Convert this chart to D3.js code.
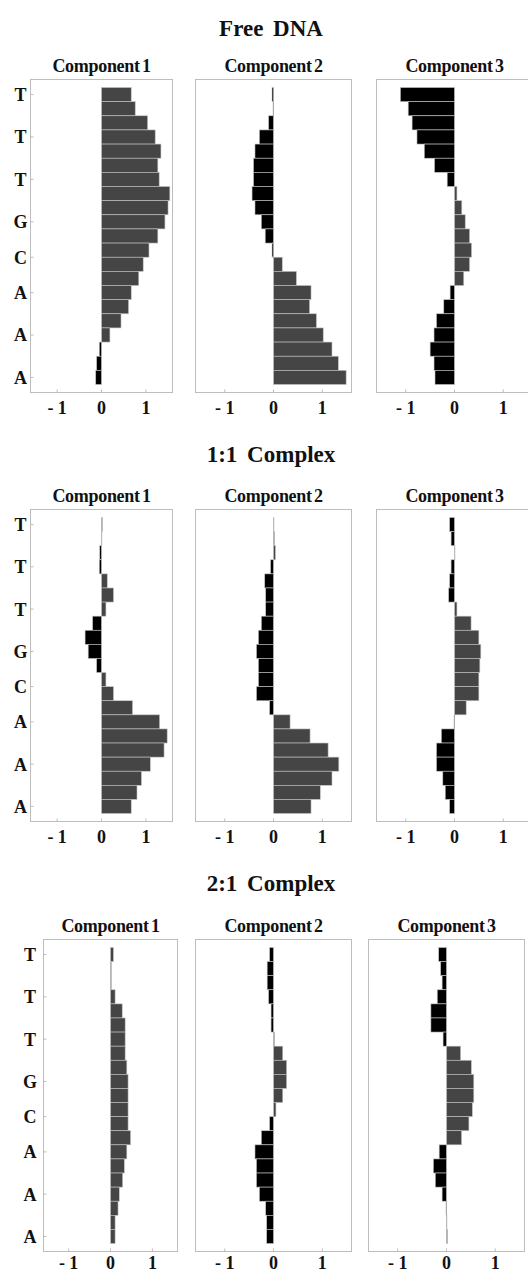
<!DOCTYPE html>
<html lang="en">
<head>
<meta charset="UTF-8">
<title>Free DNA / Complex components</title>
<script src="https://d3js.org/d3.v7.min.js"></script>
<style>
  body { margin: 0; background: #fff; }
  text { font-family: "Liberation Serif", "Times New Roman", serif; font-weight: bold; fill: #111; }
</style>
</head>
<body>
<script>

// sequence labels on the y axis and the bar index they sit on
const categories = ['T', 'T', 'T', 'G', 'C', 'A', 'A', 'A'];
const categoryPos = [0, 3, 6, 9, 11.5, 14, 17, 20];

const xTicks = [-1, 0, 1];
const xTickLabels = ['- 1', '0', '1'];

const sectionTitles = ['Free DNA', '1:1 Complex', '2:1 Complex'];
const componentTitles = ['Component 1', 'Component 2', 'Component 3'];

// values, top bar first (21 bars per panel)
const freeC1 = [0.67, 0.76, 1.04, 1.21, 1.34, 1.27, 1.30, 1.54, 1.50, 1.43, 1.27, 1.07, 0.94, 0.84, 0.67, 0.61, 0.44, 0.19, -0.05, -0.11, -0.13];
const freeC2 = [-0.03, -0.01, -0.10, -0.29, -0.38, -0.41, -0.41, -0.44, -0.38, -0.25, -0.17, -0.03, 0.18, 0.47, 0.77, 0.74, 0.88, 1.02, 1.20, 1.33, 1.49];
const freeC3 = [-1.11, -0.95, -0.87, -0.77, -0.62, -0.41, -0.15, 0.05, 0.15, 0.22, 0.31, 0.35, 0.31, 0.19, -0.09, -0.22, -0.37, -0.42, -0.50, -0.42, -0.40];

const c11C1 = [0.02, 0.01, -0.04, -0.05, 0.13, 0.27, 0.10, -0.20, -0.37, -0.30, -0.11, 0.10, 0.27, 0.70, 1.31, 1.48, 1.41, 1.10, 0.90, 0.80, 0.67];
const c11C2 = [0.01, 0.02, 0.04, -0.06, -0.18, -0.16, -0.16, -0.25, -0.31, -0.35, -0.31, -0.31, -0.35, -0.08, 0.34, 0.75, 1.12, 1.34, 1.20, 0.96, 0.77];
const c11C3 = [-0.10, -0.07, 0.01, -0.07, -0.10, -0.12, 0.05, 0.34, 0.50, 0.54, 0.52, 0.50, 0.50, 0.24, -0.01, -0.27, -0.37, -0.37, -0.24, -0.19, -0.10];

const c21C1 = [0.07, 0.02, 0.02, 0.11, 0.28, 0.35, 0.35, 0.35, 0.39, 0.42, 0.42, 0.42, 0.42, 0.48, 0.39, 0.33, 0.29, 0.21, 0.18, 0.11, 0.11];
const c21C2 = [-0.08, -0.13, -0.13, -0.10, -0.05, -0.05, 0.02, 0.19, 0.27, 0.27, 0.19, 0.05, -0.08, -0.25, -0.38, -0.35, -0.35, -0.29, -0.16, -0.14, -0.14];
const c21C3 = [-0.16, -0.12, -0.09, -0.19, -0.32, -0.32, -0.07, 0.29, 0.51, 0.56, 0.56, 0.53, 0.46, 0.31, -0.15, -0.27, -0.23, -0.09, -0.01, 0.01, 0.02];

const sectionData = [
  [freeC1, freeC2, freeC3],
  [c11C1, c11C2, c11C3],
  [c21C1, c21C2, c21C3]
];

// page layout (pixels)
const layout = [
  { titleY: 36, top: 79.5, bottom: 392.5, labelX: 20.5, tickY: 21, panels: [[30.5, 172.5], [195.5, 351.5], [376.5, 532.5]] },
  { titleY: 462, top: 509.5, bottom: 821.5, labelX: 20.5, tickY: 21, panels: [[30.5, 172.5], [195.5, 351.5], [376.5, 532.5]] },
  { titleY: 891, top: 939.5, bottom: 1251.5, labelX: 30, tickY: 17.5, panels: [[43.5, 177.5], [195.5, 351.5], [368.5, 524.5]] }
];
const pad = 8;
const nBars = 21;

const svg = d3.select('body').append('svg').attr('width', 528).attr('height', 1272);

layout.forEach((L, s) => {
  svg.append('text')
    .attr('x', 271).attr('y', L.titleY)
    .attr('text-anchor', 'middle')
    .attr('font-size', 23)
    .attr('word-spacing', 4)
    .text(sectionTitles[s]);

  const y = d3.scaleLinear().domain([-0.5, nBars - 0.5]).range([L.top + pad, L.bottom - pad]);

  // sequence letters
  svg.append('g').selectAll('text')
    .data(categories)
    .join('text')
    .attr('x', L.labelX)
    .attr('y', (d, i) => y(categoryPos[i]))
    .attr('dy', '0.36em')
    .attr('text-anchor', 'middle')
    .attr('font-size', 18)
    .text(d => d);

  L.panels.forEach((p, c) => {
    const x = d3.scaleLinear().domain([-1.6, 1.6]).range(p);
    const g = svg.append('g');
    const values = sectionData[s][c];

    g.append('text')
      .attr('x', (p[0] + p[1]) / 2).attr('y', L.top - 7.5)
      .attr('text-anchor', 'middle')
      .attr('font-size', 18)
      .attr('letter-spacing', -0.3)
      .attr('word-spacing', -2)
      .text(componentTitles[c]);

    g.append('rect')
      .attr('x', p[0]).attr('y', L.top)
      .attr('width', p[1] - p[0]).attr('height', L.bottom - L.top)
      .attr('fill', 'none').attr('stroke', '#bdbdbd').attr('stroke-width', 1);

    g.selectAll('.bar')
      .data(values)
      .join('rect')
      .attr('class', 'bar')
      .attr('x', d => x(Math.min(0, d)))
      .attr('y', (d, i) => y(i - 0.5))
      .attr('width', d => Math.abs(x(d) - x(0)))
      .attr('height', (d, i) => y(i + 0.5) - y(i - 0.5))
      .attr('fill', d => d < 0 ? '#000' : '#454545')
      .attr('stroke', '#c4c4c4')
      .attr('stroke-width', 0.6);

    // bottom ticks and labels
    g.selectAll('.xt')
      .data(xTicks)
      .join('line')
      .attr('class', 'xt')
      .attr('x1', d => x(d)).attr('x2', d => x(d))
      .attr('y1', L.bottom).attr('y2', L.bottom - 3)
      .attr('stroke', '#bdbdbd');

    g.selectAll('.xl')
      .data(xTicks)
      .join('text')
      .attr('class', 'xl')
      .attr('x', d => x(d))
      .attr('y', L.bottom + L.tickY)
      .attr('text-anchor', 'middle')
      .attr('font-size', 18)
      .text((d, i) => xTickLabels[i]);

    if (c === 0) {
      g.selectAll('.yt')
        .data(categoryPos)
        .join('line')
        .attr('class', 'yt')
        .attr('x1', p[0]).attr('x2', p[0] + 3)
        .attr('y1', d => y(d)).attr('y2', d => y(d))
        .attr('stroke', '#bdbdbd');
    }
  });
});

</script>
</body>
</html>
